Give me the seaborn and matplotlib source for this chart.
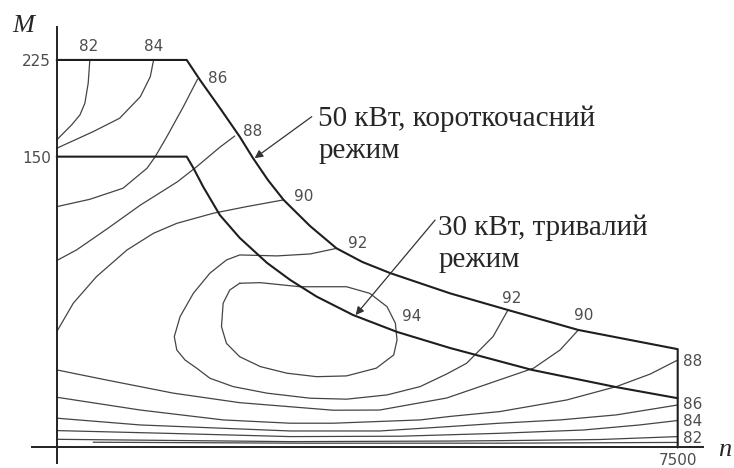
import numpy as np
import pandas as pd
import matplotlib
matplotlib.use('Agg')
import matplotlib.pyplot as plt
from matplotlib.patches import Rectangle
import seaborn as sns

# Карта ККД тягового двигуна: n - об/хв, M - Н·м, ізолінії ККД у %

# межа 50 кВт (короткочасний режим), разом з вертикаллю на n = 7500
lim50_n = [0, 1570, 1730, 1970, 2210, 2370, 2550, 2740, 3060, 3380, 3690, 4030, 4750, 5450, 6300, 7500, 7500]
lim50_m = [225, 225, 209.5, 187.8, 165.5, 149.3, 138.0, 127.7, 114.2, 102.7, 95.7, 89.9, 79.5, 70.9, 60.6, 50.7, 0]

# межа 30 кВт (тривалий режим)
lim30_n = [0, 1570, 1650, 1770, 1970, 2210, 2540, 2820, 3140, 3580, 4110, 4750, 5740, 6760, 7500]
lim30_m = [150, 150, 144.2, 134.4, 119.9, 108.1, 95.2, 86.4, 77.8, 68.3, 59.6, 51.3, 40.0, 31.1, 25.4]

# ізолінії ККД (верхні гілки - зліва вгорі, нижні - біля осі n)
c82a_n = [400, 380, 340, 280, 180, 0]
c82a_m = [225, 206.9, 191.4, 182.3, 174.6, 163.0]
c84a_n = [1170, 1130, 1010, 760, 440, 0]
c84a_m = [225, 212.0, 196.5, 179.8, 169.4, 156.5]
c86a_n = [1700, 1530, 1330, 1190, 1090, 800, 400, 0]
c86a_m = [210, 188.8, 165.5, 150, 144.0, 133.7, 128.0, 124.2]
c88a_n = [2150, 1970, 1690, 1460, 1010, 600, 240, 0]
c88a_m = [166, 157.3, 144.8, 137.1, 125.0, 112.5, 101.9, 96.4]
c90a_n = [2740, 2290, 1890, 1450, 1170, 850, 480, 200, 0]
c90a_m = [127.7, 124.2, 120.8, 115.6, 110.5, 101.9, 88.1, 74.4, 59.7]
c92_n = [3380, 3060, 2660, 2210, 2050, 1850, 1650, 1490, 1420, 1450, 1550, 1690, 1850, 2130, 2540,
         3060, 3500, 3990, 4390, 4710, 4950, 5270, 5450]
c92_m = [102.7, 99.8, 98.8, 99.3, 96.7, 89.9, 79.5, 67.5, 57.2, 50.3, 45.1, 40.9, 35.7, 31.4, 28.0,
         25.4, 24.9, 27.1, 31.4, 37.9, 43.4, 57.2, 70.9]
c94_n = [2210, 2460, 2940, 3500, 3780, 3990, 4090, 4110, 4070, 3860, 3500, 3140, 2780, 2460,
         2210, 2050, 1990, 2010, 2090, 2210]
c94_m = [84.7, 85.0, 82.9, 82.9, 79.5, 72.6, 64.1, 55.4, 47.7, 40.9, 36.9, 36.5, 38.3, 41.7,
         46.8, 53.7, 62.3, 74.4, 81.2, 84.7]
c90b_n = [0, 600, 1410, 2210, 2820, 3340, 3900, 4710, 5310, 5760, 6080, 6300]
c90b_m = [40.0, 34.8, 28.0, 23.1, 21.0, 19.2, 19.3, 25.5, 34.3, 40.9, 50.3, 60.6]
c88b_n = [0, 1010, 2010, 2820, 3340, 4390, 4750, 5350, 6160, 6760, 7170, 7500]
c88b_m = [25.9, 19.3, 14.2, 12.5, 12.5, 14.2, 16.0, 18.5, 24.5, 31.4, 37.9, 45.1]
c86b_n = [0, 1010, 2820, 3900, 4750, 5350, 6080, 6760, 7500]
c86b_m = [15.1, 11.6, 8.5, 8.5, 10.8, 12.5, 14.2, 16.8, 21.9]
c84b_n = [0, 1410, 2820, 4150, 5350, 6360, 7040, 7500]
c84b_m = [8.7, 7.2, 5.6, 5.8, 7.3, 9.0, 11.6, 13.9]
c82b_n = [0, 2820, 4750, 5350, 6560, 7500]
c82b_m = [4.2, 3.0, 3.3, 3.5, 4.1, 5.6]
c80_n = [440, 2940, 5350, 7500]
c80_m = [2.7, 2.2, 2.2, 2.6]

# підписи ізоліній
lab_text = ['82', '84', '86', '88', '90', '92', '94', '92', '90', '88', '86', '84', '82']
lab_n = [390, 1170, 1950, 2370, 2980, 3640, 4290, 5500, 6360, 7570, 7570, 7570, 7570]
lab_m = [235.3, 235.3, 210.8, 169.4, 129.4, 105.3, 67.5, 77.0, 68.3, 44.3, 22.4, 13.3, 4.7]

sns.set_style('white')
plt.rcParams['font.family'] = ['DejaVu Sans']

# вісь M на рисунку нерівномірна: 0..150 розтягнуто сильніше, ніж 150..225
def m_fwd(m):
    m = np.asarray(m, dtype=float)
    return np.where(m <= 150, m * 290.8 / 150, 290.8 + (m - 150) * 96.7 / 75)

def m_inv(h):
    h = np.asarray(h, dtype=float)
    return np.where(h <= 290.8, h * 150 / 290.8, 150 + (h - 290.8) * 75 / 96.7)

fig = plt.figure(figsize=(7.34, 4.68), dpi=100)
ax = fig.add_axes([0, 0, 1, 1])
ax.set_yscale('function', functions=(m_fwd, m_inv))

iso = {
    '82a': (c82a_n, c82a_m), '84a': (c84a_n, c84a_m), '86a': (c86a_n, c86a_m),
    '88a': (c88a_n, c88a_m), '90a': (c90a_n, c90a_m), '92': (c92_n, c92_m),
    '94': (c94_n, c94_m), '90b': (c90b_n, c90b_m), '88b': (c88b_n, c88b_m),
    '86b': (c86b_n, c86b_m), '84b': (c84b_n, c84b_m), '82b': (c82b_n, c82b_m),
    '80': (c80_n, c80_m),
}
df_iso = pd.concat([pd.DataFrame({'n': n, 'M': m, 'line': k}) for k, (n, m) in iso.items()],
                   ignore_index=True)
df_lim = pd.concat([pd.DataFrame({'n': lim50_n, 'M': lim50_m, 'line': '50'}),
                    pd.DataFrame({'n': lim30_n, 'M': lim30_m, 'line': '30'})], ignore_index=True)

sns.lineplot(data=df_iso, x='n', y='M', units='line', estimator=None, sort=False,
             color='#444444', lw=0.9, legend=False, ax=ax)
sns.lineplot(data=df_lim, x='n', y='M', units='line', estimator=None, sort=False,
             color='#1e1e1e', lw=1.5, legend=False, ax=ax)

for t, n, m in zip(lab_text, lab_n, lab_m):
    ax.text(n, m, t, ha='left' if n > 7500 else 'center', va='center',
            fontsize=11, color='#4d4d4d')

# стрілки з підписами режимів
arrow = dict(arrowstyle='-|>', color='#333333', lw=0.9, mutation_scale=12, shrinkA=0, shrinkB=0)
ax.annotate('', xy=(2390, 149.2), xytext=(3080, 181.0), arrowprops=arrow)
ax.annotate('', xy=(3610, 68.3), xytext=(4570, 117.3), arrowprops=arrow)

# va='baseline' у багаторядковому тексті прив'язує базову лінію останнього рядка
t50 = ax.text(3160, 149.3, '50 кВт, короткочасний\nрежим', fontsize=21,
              family=['Liberation Serif'], ha='left', va='baseline', linespacing=1.3)
t30 = ax.text(4610, 93.3, '30 кВт, тривалий\nрежим', fontsize=21,
              family=['Liberation Serif'], ha='left', va='baseline', linespacing=1.3)
# на оригіналі нижній рядок підпису обрізаний по базовій лінії
t50.set_clip_path(Rectangle((3000, 148.6), 5000, 120, transform=ax.transData))
t30.set_clip_path(Rectangle((4400, 92.8), 3700, 170, transform=ax.transData))

ax.text(-400, 251, 'M', fontsize=19, family=['Liberation Serif'], style='italic',
        ha='center', va='center')
ax.text(8070, -1.5, 'n', fontsize=19, family=['Liberation Serif'], style='italic',
        ha='center', va='center')

# осі, що перетинаються в початку координат
for s in ['top', 'right']:
    ax.spines[s].set_visible(False)
ax.spines['left'].set_position(('data', 0))
ax.spines['bottom'].set_position(('data', 0))
ax.spines['left'].set_bounds(-8.1, 250.8)
ax.spines['bottom'].set_bounds(-302, 7805)
for s in ['left', 'bottom']:
    ax.spines[s].set_linewidth(1.4)
    ax.spines[s].set_color('#222222')

ax.set_xticks([7500])
ax.set_xticklabels(['7500'])
ax.set_yticks([150, 225])
ax.set_yticklabels(['150', '225'])
ax.tick_params(axis='both', length=0, labelsize=11, labelcolor='#4d4d4d')
ax.tick_params(axis='x', pad=4)
ax.tick_params(axis='y', pad=4)
ax.set_xlabel('')
ax.set_ylabel('')
ax.set_xlim(-685, 8180)
ax.set_ylim(-10.6, 271.5)

fig.savefig('out.png', dpi=100)
